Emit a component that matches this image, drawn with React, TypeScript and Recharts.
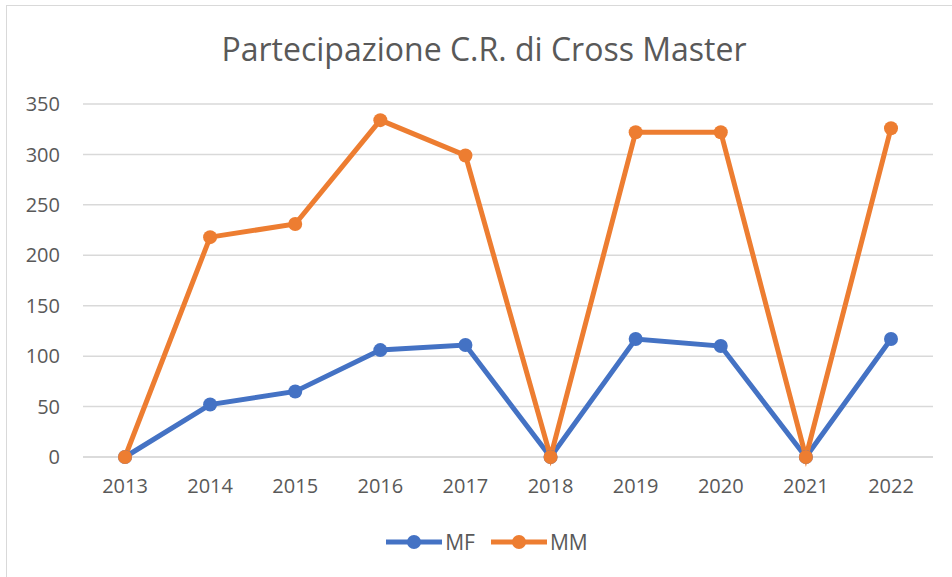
import React from "react";
import {
  LineChart,
  Line,
  XAxis,
  YAxis,
  CartesianGrid,
} from "recharts";

const years = ["2013", "2014", "2015", "2016", "2017", "2018", "2019", "2020", "2021", "2022"];
const mf = [0, 52, 65, 106, 111, 0, 117, 110, 0, 117];
const mm = [0, 218, 231, 334, 299, 0, 322, 322, 0, 326];
const yTicks = [0, 50, 100, 150, 200, 250, 300, 350];

const data = years.map((year, i) => ({ year, MF: mf[i], MM: mm[i] }));

const BLUE = "#4472C4";
const ORANGE = "#ED7D31";
const TEXT = "#595959";
const FONT = "'Open Sans', 'Noto Sans', sans-serif";

const legendItems = [
  { name: "MF", color: BLUE },
  { name: "MM", color: ORANGE },
];

const ChartLegend = () => (
  <div
    style={{
      position: "absolute",
      left: 0,
      top: 528,
      width: 952,
      display: "flex",
      justifyContent: "center",
      gap: 16,
      fontFamily: FONT,
      fontSize: 21,
      color: TEXT,
      paddingLeft: 22,
      boxSizing: "border-box",
    }}
  >
    {legendItems.map((it) => (
      <div key={it.name} style={{ display: "flex", alignItems: "center" }}>
        <svg width={56} height={18}>
          <line x1={0} y1={9} x2={56} y2={9} stroke={it.color} strokeWidth={5} strokeLinecap="round" />
          <circle cx={28} cy={9} r={7} fill={it.color} />
        </svg>
        <span style={{ marginLeft: 3 }}>{it.name}</span>
      </div>
    ))}
  </div>
);

export default function App() {
  return (
    <div style={{ position: "absolute", left: 0, top: 0, width: 952, height: 577, background: "#fff", overflow: "hidden" }}>
      <div
        style={{
          position: "absolute",
          left: 6,
          top: 5,
          width: 960,
          height: 600,
          border: "1.5px solid #d9d9d9",
          boxSizing: "border-box",
        }}
      />
      <div
        style={{
          position: "absolute",
          left: 0,
          top: 27,
          width: 968,
          textAlign: "center",
          fontFamily: FONT,
          fontSize: 32,
          color: TEXT,
        }}
      >
        Partecipazione C.R. di Cross Master
      </div>
      <div style={{ position: "absolute", left: 0, top: 0 }}>
        <LineChart
          width={952}
          height={577}
          data={data}
          margin={{ top: 104, right: 19, bottom: 90, left: 0 }}
        >
          <CartesianGrid vertical={false} stroke="#d9d9d9" strokeWidth={1.5} />
          <XAxis
            dataKey="year"
            height={30}
            tickLine={false}
            axisLine={{ stroke: "#d9d9d9", strokeWidth: 1.5 }}
            tickSize={0}
            tickMargin={22}
            tick={{ fill: TEXT, fontSize: 20, fontFamily: FONT }}
            interval={0}
            padding={{ left: 42, right: 42 }}
          />
          <YAxis
            width={83}
            domain={[0, 350]}
            ticks={yTicks}
            tickLine={false}
            axisLine={false}
            tickSize={0}
            tickMargin={23}
            tick={{ fill: TEXT, fontSize: 20, fontFamily: FONT }}
          />
          <Line
            dataKey="MF"
            stroke={BLUE}
            strokeWidth={5}
            dot={{ r: 7, fill: BLUE, stroke: BLUE, strokeWidth: 0 }}
            activeDot={false}
            isAnimationActive={false}
          />
          <Line
            dataKey="MM"
            stroke={ORANGE}
            strokeWidth={5}
            dot={{ r: 7, fill: ORANGE, stroke: ORANGE, strokeWidth: 0 }}
            activeDot={false}
            isAnimationActive={false}
          />
        </LineChart>
      </div>
      <ChartLegend />
    </div>
  );
}
